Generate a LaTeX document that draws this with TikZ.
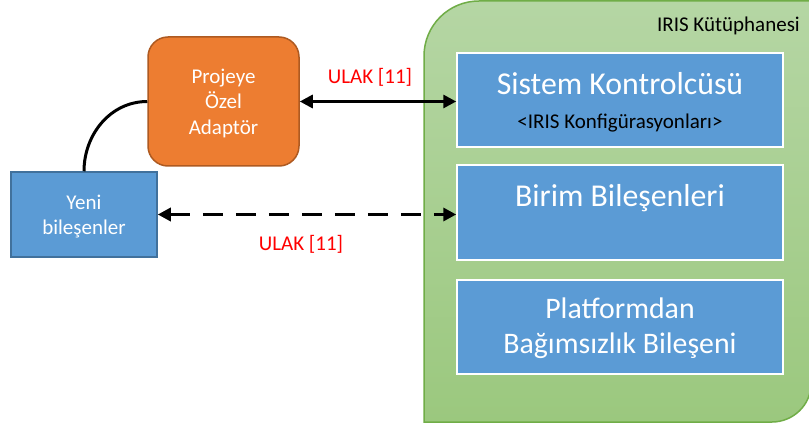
\documentclass[tikz,border=0pt]{standalone}
\usepackage{fontspec}
\setmainfont{Carlito}
\usetikzlibrary{arrows.meta}
\definecolor{boxblue}{HTML}{5B9BD5}
\definecolor{boxblueedge}{HTML}{41719C}
\definecolor{orangefill}{HTML}{ED7D31}
\definecolor{orangeedge}{HTML}{AE5A21}
\definecolor{greentop}{HTML}{B5D6A4}
\definecolor{greenbot}{HTML}{9BC87E}
\definecolor{greenedge}{HTML}{70AD47}
\definecolor{ulakred}{HTML}{FF0000}
\tikzset{
  libbox/.style={draw=white, line width=1.5pt, fill=boxblue, inner sep=0pt, minimum width=326pt},
  newbox/.style={draw=boxblueedge, line width=1.5pt, fill=boxblue, inner sep=0pt, minimum width=146pt, minimum height=85pt},
  adaptbox/.style={draw=orangeedge, line width=1.5pt, fill=orangefill, rounded corners=20pt, inner sep=0pt, minimum width=151pt, minimum height=129pt},
  bigtxt/.style={anchor=base, text=white, font=\fontsize{31.8}{38}\selectfont, inner sep=0pt},
  midtxt/.style={anchor=base, text=white, font=\fontsize{29.8}{36}\selectfont, inner sep=0pt},
  smalltxtw/.style={anchor=base, text=white, font=\fontsize{21}{25}\selectfont, inner sep=0pt},
  smalltxtb/.style={anchor=base, text=black, font=\fontsize{21}{25}\selectfont, inner sep=0pt},
  ulak/.style={anchor=base, text=ulakred, font=\fontsize{21}{25}\selectfont, inner sep=0pt},
  conn/.style={line width=3pt, black},
}
\begin{document}
\begin{tikzpicture}[x=1pt,y=-1pt]
\useasboundingbox (0,0) rectangle (809,425);
\fill[white] (0,0) rectangle (809,425);
% library container
\path[draw=greenedge, line width=1.5pt, top color=greentop, bottom color=greenbot]
  (424,422) -- (424,56) .. controls (424,25.6) and (448.6,1) .. (479,1)
  -- (812,1) -- (811,384) .. controls (811,405) and (793,422) .. (772,422) -- cycle;
\node[anchor=base east, inner sep=0pt, font=\fontsize{21}{25}\selectfont] (libt) at (800,31.7) {IRIS Kütüphanesi};

\node[libbox, minimum height=94pt] (sk) at (620,100) {};
\node[bigtxt] (skt) at (620,94.3) {Sistem Kontrolcüsü};
\node[smalltxtb] (skc) at (620,128.3) {<IRIS Konfigürasyonları>};

\node[libbox, minimum height=95pt] (bb) at (620,212.5) {};
\node[bigtxt] (bbt) at (620,206.7) {Birim Bileşenleri};

\node[libbox, minimum height=94pt] (pb) at (620,327) {};
\node[midtxt] (pbt1) at (620,318.3) {Platformdan};
\node[midtxt] (pbt2) at (620,353.3) {Bağımsızlık Bileşeni};

% adapter
\node[adaptbox] (ad) at (223.5,101.5) {};
\node[smalltxtw] (adt1) at (223.5,83.3) {Projeye};
\node[smalltxtw] (adt2) at (223.5,109) {Özel};
\node[smalltxtw] (adt3) at (223.5,135) {Adaptör};

% new components
\node[newbox] (yn) at (84,214.5) {};
\node[smalltxtw] (ynt1) at (84,209) {Yeni};
\node[smalltxtw] (ynt2) at (84,234) {bileşenler};

% connectors
\draw[conn, {Triangle[length=13pt,width=13pt]}-{Triangle[length=13pt,width=13pt]}] (ad.east) -- (ad.east -| sk.west);
\draw[conn, line width=3.5pt, dash pattern=on 20pt off 13pt, {Triangle[length=13pt,width=13pt]}-{Triangle[length=13pt,width=13pt]}] (yn.east) -- (yn.east -| bb.west);
\draw[conn] (yn.north) to[out=90,in=180] (ad.west);

\node[ulak] (u1) at (370,84) {ULAK [11]};
\node[ulak] (u2) at (301,250) {ULAK [11]};
\end{tikzpicture}
\end{document}
